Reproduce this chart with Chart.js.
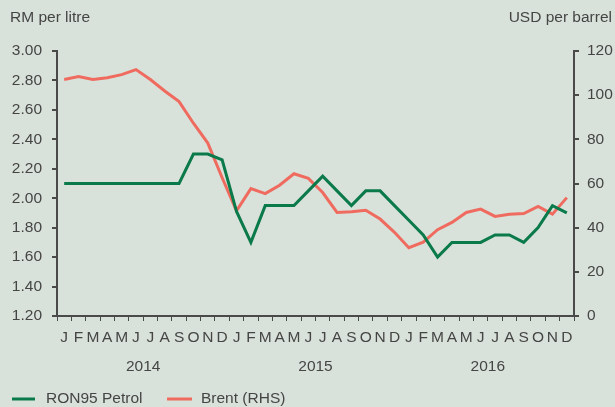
<!DOCTYPE html>
<html>
<head>
<meta charset="utf-8">
<script src="https://cdn.jsdelivr.net/npm/chart.js@4/dist/chart.umd.min.js"></script>
<style>
  body { margin: 0; background: #d9e2da; }
  #wrap { width: 615px; height: 407px; position: relative; }
</style>
</head>
<body>
<div id="wrap"><canvas id="grafico"></canvas></div>
<script>
// datos del grafico
var meses = ['J','F','M','A','M','J','J','A','S','O','N','D',
             'J','F','M','A','M','J','J','A','S','O','N','D',
             'J','F','M','A','M','J','J','A','S','O','N','D'];
var anios = ['2014', '2015', '2016'];
// RM por litro
var ron95 = [2.10,2.10,2.10,2.10,2.10,2.10,2.10,2.10,2.10,2.30,2.30,2.26,
             1.91,1.70,1.95,1.95,1.95,2.05,2.15,2.05,1.95,2.05,2.05,1.95,
             1.85,1.75,1.60,1.70,1.70,1.70,1.75,1.75,1.70,1.80,1.95,1.90];
// USD por barril
var brent = [107.1,108.4,107.1,107.9,109.3,111.6,107.1,101.9,97.1,87.3,78.3,62.6,
             47.6,57.7,55.4,59.2,64.4,62.3,55.9,46.9,47.2,47.9,43.9,37.9,
             30.9,33.4,39.1,42.4,46.9,48.4,45.1,46.1,46.4,49.6,46.1,53.6];
var ticksIzq = [1.2, 3.0, 0.2];
var ticksDer = [0, 120, 20];

var colorVerde = '#0b7a4b';
var colorRojo = '#f06b5f';
var colorTexto = '#454545';
var colorEje = '#4a4a4a';
var fuente = '"Liberation Sans", Arial, Helvetica, sans-serif';
var tam = 15.5;

// textos extra: titulos de ejes, años y leyenda
var pluginTextos = {
	id: 'textos',
	afterDraw: function(chart){
		var ctx = chart.ctx;
		var x = chart.scales.x;
		ctx.save();
		ctx.fillStyle = colorTexto;
		ctx.font = tam + 'px ' + fuente;
		ctx.textBaseline = 'middle';
		ctx.textAlign = 'left';
		ctx.fillText('RM per litre', 10, 18);
		ctx.textAlign = 'right';
		ctx.fillText('USD per barrel', 612, 18);
		// años centrados en cada grupo de 12 meses
		ctx.textAlign = 'center';
		for (var i = 0; i < anios.length; i++) {
			var xc = (x.getPixelForValue(i*12 + 5) + x.getPixelForValue(i*12 + 6)) / 2;
			ctx.fillText(anios[i], xc, 367);
		}
		// leyenda
		ctx.lineWidth = 3;
		ctx.strokeStyle = colorVerde;
		ctx.beginPath(); ctx.moveTo(12, 399); ctx.lineTo(35, 399); ctx.stroke();
		ctx.strokeStyle = colorRojo;
		ctx.beginPath(); ctx.moveTo(167, 399); ctx.lineTo(192, 399); ctx.stroke();
		ctx.textAlign = 'left';
		ctx.fillText('RON95 Petrol', 46, 399);
		ctx.fillText('Brent (RHS)', 201, 399);
		ctx.restore();
	}
};

var myChart = new Chart('grafico', {
	type: 'line',
	data: {
		labels: meses,
		datasets: [{
			label: 'RON95 Petrol',
			data: ron95,
			borderColor: colorVerde,
			borderWidth: 3,
			pointRadius: 0,
			yAxisID: 'y'
		}, {
			label: 'Brent (RHS)',
			data: brent,
			borderColor: colorRojo,
			borderWidth: 3,
			pointRadius: 0,
			yAxisID: 'y1'
		}]
	},
	options: {
		responsive: true,
		maintainAspectRatio: false,
		animation: false,
		layout: { padding: { top: 51, left: 0, right: 0, bottom: 0 } },
		plugins: {
			legend: { display: false },
			tooltip: { enabled: false }
		},
		scales: {
			x: {
				offset: true,
				grid: { display: true, drawOnChartArea: false, offset: true, tickLength: 5, color: colorEje, lineWidth: 1 },
				border: { color: colorEje, width: 2 },
				ticks: { autoSkip: false, maxRotation: 0, padding: 7, color: colorTexto, font: { size: tam, family: fuente } },
				afterFit: function(scale){ scale.height = 91; }
			},
			y: {
				position: 'left',
				min: ticksIzq[0], max: ticksIzq[1],
				grid: { drawOnChartArea: false, tickLength: 5, color: colorEje, lineWidth: 2 },
				border: { color: colorEje, width: 2 },
				ticks: {
					stepSize: ticksIzq[2], padding: 10, color: colorTexto,
					font: { size: tam, family: fuente },
					callback: function(v){ return v.toFixed(2); }
				},
				afterFit: function(scale){ scale.width = 57; }
			},
			y1: {
				position: 'right',
				min: ticksDer[0], max: ticksDer[1],
				grid: { drawOnChartArea: false, tickLength: 5, color: colorEje, lineWidth: 2 },
				border: { color: colorEje, width: 2 },
				ticks: { stepSize: ticksDer[2], padding: 8, color: colorTexto, font: { size: tam, family: fuente } },
				afterFit: function(scale){ scale.width = 41; }
			}
		}
	},
	plugins: [pluginTextos]
});
</script>
</body>
</html>
